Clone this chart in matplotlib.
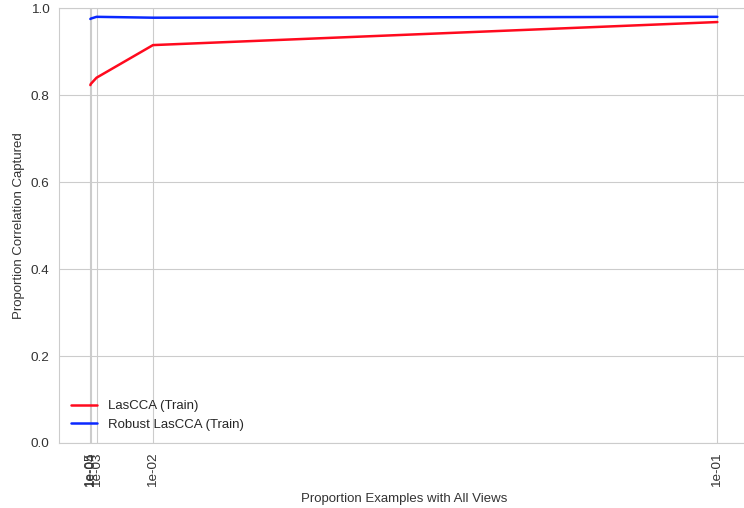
import matplotlib
matplotlib.use("Agg")
import matplotlib.pyplot as plt
import seaborn as sns

sns.set_style("whitegrid")
plt.rcParams['font.family'] = ['Liberation Sans', 'DejaVu Sans']

proportions = [1e-05, 1e-04, 1e-03, 1e-02, 1e-01]
lascca_train = [0.823, 0.826, 0.840, 0.915, 0.968]
robust_lascca_train = [0.975, 0.976, 0.980, 0.978, 0.980]
tick_labels = ["1e-05", "1e-04", "1e-03", "1e-02", "1e-01"]

fig = plt.figure(figsize=(7.44, 5.08), dpi=100)
ax = fig.add_axes([0.0793, 0.128, 0.927, 0.856])

ax.plot(proportions, lascca_train, color="#ff0a1e", linewidth=1.8, label="LasCCA (Train)")
ax.plot(proportions, robust_lascca_train, color="#0a28ff", linewidth=1.8, label="Robust LasCCA (Train)")

ax.set_ylim(0, 1.0)
ax.set_xticks(proportions)
ax.set_xticklabels(tick_labels, rotation=90)
ax.tick_params(labelsize=9.7, colors="#333333")
ax.set_xlabel("Proportion Examples with All Views", fontsize=9.5, color="#333333")
ax.set_ylabel("Proportion Correlation Captured", fontsize=9.5, color="#333333")
ax.legend(loc="lower left", frameon=False, fontsize=9.5, bbox_to_anchor=(0.0, 0.0))

fig.savefig("out.png", dpi=100)
